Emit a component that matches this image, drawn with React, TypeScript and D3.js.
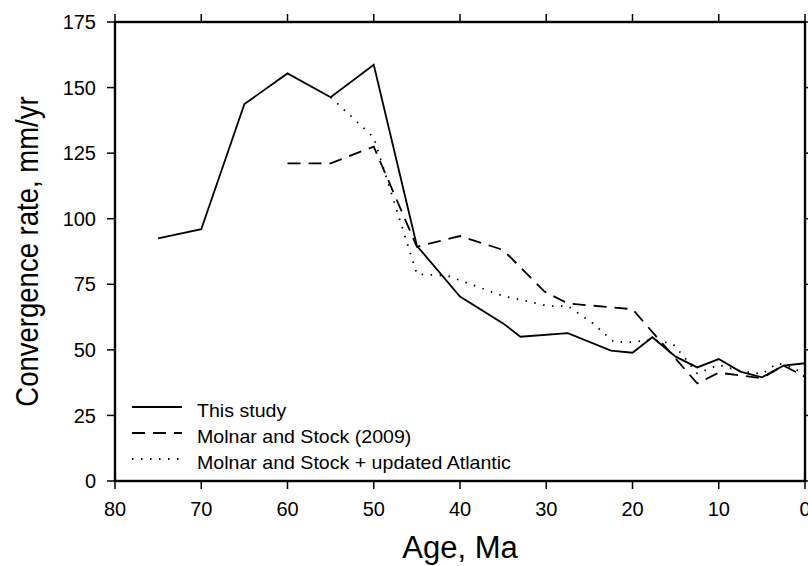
import * as d3 from 'd3';
import React, { useRef, useEffect } from 'react';

// [age Ma, rate mm/yr]
const thisStudy: [number, number][] = [
  [75, 92.5], [70, 96], [65, 143.7], [60, 155.4], [55, 146.3], [50, 158.7],
  [45, 89.7], [40, 70.3], [35, 60.1], [33, 55], [27.5, 56.4], [22.5, 49.7],
  [20, 48.9], [17.7, 54.8], [15, 47.4], [12.5, 43.3], [10, 46.5], [7.5, 41.7],
  [5, 39.5], [2.5, 44], [0, 44.9],
];
const molnarStock: [number, number][] = [
  [60, 121.1], [55, 121.1], [50, 127.5], [45, 89.3], [40, 93.4], [35, 88.1],
  [30.2, 72.2], [27.5, 67.7], [20, 65.5], [12.5, 37.2], [10, 41.3], [5, 39.2],
  [2.5, 44], [0, 39.8],
];
const molnarAtlantic: [number, number][] = [
  [55, 146.3], [50, 131], [45, 78.9], [41.5, 78.3], [35, 70.5], [32, 68.4],
  [29.7, 66.7], [27.5, 66.7], [24.7, 60.4], [22.2, 53.1], [20, 52.9], [17.7, 54],
  [15.3, 52.2], [14, 47.2], [12.5, 41], [10, 44.2], [7.5, 42], [5, 40.8],
  [3.2, 44.9], [1.2, 43], [0, 40],
];
const seriesNames = ['This study', 'Molnar and Stock (2009)', 'Molnar and Stock + updated Atlantic'];
const seriesDash = ['none', '13,8', '1.5,7.5'];
const xTicks = [80, 70, 60, 50, 40, 30, 20, 10, 0];
const yTicks = [0, 25, 50, 75, 100, 125, 150, 175];

const App = () => {
  const ref = useRef<SVGSVGElement>(null);

  useEffect(() => {
    document.body.style.margin = '0';
    const svg = d3.select(ref.current);
    svg.selectAll('*').remove();

    const left = 115, right = 805, top = 22, bottom = 481;
    const x = d3.scaleLinear().domain([80, 0]).range([left, right]);
    const y = d3.scaleLinear().domain([0, 175]).range([bottom, top]);
    const font = 'Liberation Sans, Arial, Helvetica, sans-serif';

    const line = d3.line<[number, number]>().x((d) => x(d[0])).y((d) => y(d[1]));
    const allSeries = [thisStudy, molnarStock, molnarAtlantic];

    const g = svg.append('g');
    allSeries.forEach((s, i) => {
      g.append('path')
        .attr('d', line(s))
        .attr('fill', 'none')
        .attr('stroke', '#000')
        .attr('stroke-width', 1.8)
        .attr('stroke-dasharray', seriesDash[i]);
    });

    // frame
    svg.append('rect')
      .attr('x', left).attr('y', top)
      .attr('width', right - left).attr('height', bottom - top)
      .attr('fill', 'none').attr('stroke', '#000').attr('stroke-width', 2.4);

    // ticks on all four sides, pointing outward
    xTicks.forEach((t) => {
      svg.append('line').attr('x1', x(t)).attr('x2', x(t)).attr('y1', bottom).attr('y2', bottom + 8)
        .attr('stroke', '#000').attr('stroke-width', 1.5);
      svg.append('line').attr('x1', x(t)).attr('x2', x(t)).attr('y1', top).attr('y2', top - 8)
        .attr('stroke', '#000').attr('stroke-width', 1.5);
      svg.append('text').attr('x', x(t)).attr('y', 516)
        .attr('text-anchor', 'middle').attr('font-family', font).attr('font-size', 20)
        .text(t);
    });
    yTicks.forEach((t) => {
      svg.append('line').attr('x1', left).attr('x2', left - 8).attr('y1', y(t)).attr('y2', y(t))
        .attr('stroke', '#000').attr('stroke-width', 1.5);
      svg.append('line').attr('x1', right).attr('x2', right + 8).attr('y1', y(t)).attr('y2', y(t))
        .attr('stroke', '#000').attr('stroke-width', 1.5);
      svg.append('text').attr('x', left - 19).attr('y', y(t)).attr('dy', '0.36em')
        .attr('text-anchor', 'end').attr('font-family', font).attr('font-size', 20)
        .text(t);
    });

    // axis titles
    svg.append('text').attr('x', (left + right) / 2).attr('y', 558)
      .attr('text-anchor', 'middle').attr('font-family', font).attr('font-size', 31)
      .text('Age, Ma');
    svg.append('text')
      .attr('transform', `translate(38, ${(top + bottom) / 2}) rotate(-90) scale(0.86, 1)`)
      .attr('text-anchor', 'middle').attr('font-family', font).attr('font-size', 32)
      .text('Convergence rate, mm/yr');

    // legend
    seriesNames.forEach((name, i) => {
      const ly = 407 + i * 26;
      svg.append('line').attr('x1', 132).attr('x2', 182).attr('y1', ly).attr('y2', ly)
        .attr('stroke', '#000').attr('stroke-width', 1.8)
        .attr('stroke-dasharray', seriesDash[i]);
      svg.append('text')
        .attr('transform', `translate(197, ${ly + 10}) scale(1.1, 1)`)
        .attr('font-family', font).attr('font-size', 17.8)
        .text(name);
    });
  }, []);

  return (
    <svg ref={ref} width={808} height={566} style={{ display: 'block', overflow: 'hidden' }} />
  );
};

export default App;
